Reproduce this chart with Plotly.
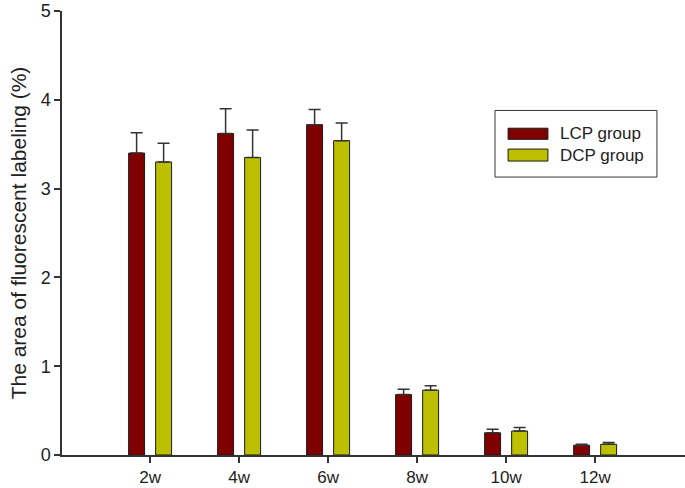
import plotly.graph_objects as go

categories = ["2w", "4w", "6w", "8w", "10w", "12w"]
series_names = ["LCP group", "DCP group"]
lcp_values = [3.40, 3.62, 3.72, 0.68, 0.25, 0.11]
lcp_errors = [0.23, 0.28, 0.17, 0.06, 0.04, 0.01]
dcp_values = [3.30, 3.35, 3.54, 0.73, 0.27, 0.12]
dcp_errors = [0.21, 0.31, 0.20, 0.05, 0.04, 0.02]
y_ticks = [0, 1, 2, 3, 4, 5]

colors = ["#800000", "#bcc000"]
font_family = "Liberation Sans, Arial, sans-serif"
text_color = "#222222"
axis_color = "#333333"

def err(vals):
    return dict(type="data", array=vals, arrayminus=[0] * len(vals), symmetric=False,
                color=axis_color, thickness=1.5, width=6)

fig = go.Figure()
for name, vals, errs, col in zip(series_names, [lcp_values, dcp_values],
                                 [lcp_errors, dcp_errors], colors):
    fig.add_trace(go.Bar(name=name, x=categories, y=vals, error_y=err(errs),
                         marker=dict(color=col, line=dict(color="#1a1a1a", width=1))))

# Legend drawn as shapes + text in paper coordinates (wide swatches like the reference)
shapes = [dict(type="rect", xref="paper", yref="paper", x0=0.695, x1=0.955, y0=0.626, y1=0.776,
               line=dict(color=axis_color, width=1), fillcolor="white", layer="above")]
annotations = []
sw_rows = [(0.711, 0.736, 0.7235), (0.662, 0.689, 0.6755)]
for (y0, y1, yc), name, col in zip(sw_rows, series_names, colors):
    shapes.append(dict(type="rect", xref="paper", yref="paper", x0=0.716, x1=0.780, y0=y0, y1=y1,
                       line=dict(color="#1a1a1a", width=1), fillcolor=col, layer="above"))
    annotations.append(dict(xref="paper", yref="paper", x=0.796, y=yc, text=name, showarrow=False,
                            xanchor="left", yanchor="middle",
                            font=dict(size=17, color=text_color, family=font_family)))

fig.update_layout(
    width=685, height=488,
    margin=dict(l=62, r=0, t=11, b=33, autoexpand=False),
    paper_bgcolor="white", plot_bgcolor="white",
    barmode="group", bargap=0.393, bargroupgap=0.41,
    font=dict(family=font_family, size=17, color=text_color),
    showlegend=False,
    shapes=shapes,
    annotations=annotations,
    xaxis=dict(range=[-0.99, 6.01], showline=True, linecolor=axis_color, linewidth=1.5,
               ticks="outside", ticklen=6, tickcolor=axis_color, tickwidth=1.5,
               showgrid=False, zeroline=False, tickfont=dict(size=17), automargin=False,
               ticklabeloverflow="allow"),
    yaxis=dict(range=[0, 5], tickvals=y_ticks, showline=True, linecolor=axis_color, linewidth=1.5,
               ticks="outside", ticklen=6, tickcolor=axis_color, tickwidth=1.5,
               showgrid=False, zeroline=False, tickfont=dict(size=18), automargin=False,
               ticklabeloverflow="allow",
               title=dict(text="The area of fluorescent labeling (%)", font=dict(size=21), standoff=8)),
)

fig.write_html("out.html", config={"displayModeBar": False},
               post_script="document.body.style.margin='0';document.body.style.overflow='hidden';")
